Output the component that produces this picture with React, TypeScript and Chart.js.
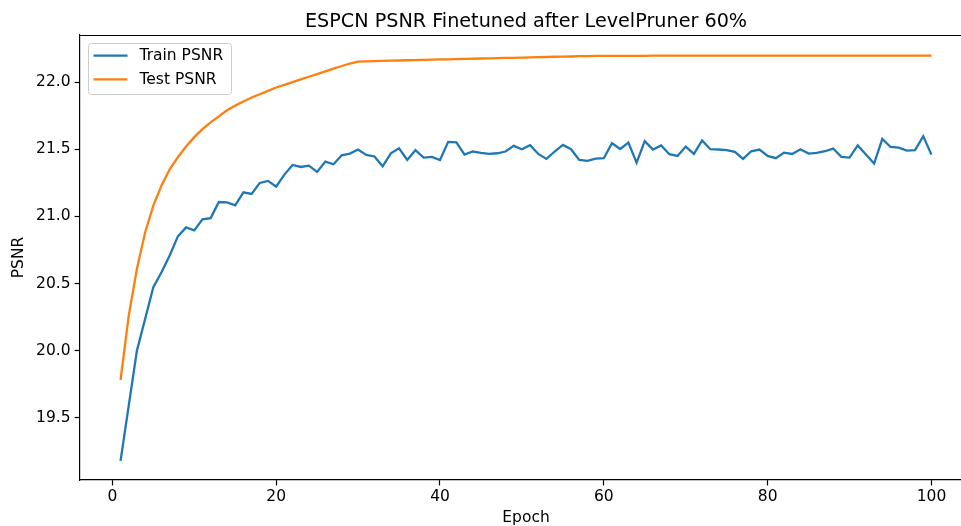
import { useEffect, useRef } from "react";
import { Chart, registerables } from "chart.js";

Chart.register(...registerables);

const chartTitle = "ESPCN PSNR Finetuned after LevelPruner 60%";
const xLabel = "Epoch";
const yLabel = "PSNR";
const seriesNames = ["Train PSNR", "Test PSNR"];
const seriesColors = ["#1f77b4", "#ff7f0e"];

const epochs = [
  1, 2, 3, 4, 5, 6, 7, 8, 9, 10, 11, 12, 13, 14, 15, 16, 17, 18, 19, 20,
  21, 22, 23, 24, 25, 26, 27, 28, 29, 30, 31, 32, 33, 34, 35, 36, 37, 38, 39, 40,
  41, 42, 43, 44, 45, 46, 47, 48, 49, 50, 51, 52, 53, 54, 55, 56, 57, 58, 59, 60,
  61, 62, 63, 64, 65, 66, 67, 68, 69, 70, 71, 72, 73, 74, 75, 76, 77, 78, 79, 80,
  81, 82, 83, 84, 85, 86, 87, 88, 89, 90, 91, 92, 93, 94, 95, 96, 97, 98, 99, 100,
];

const trainPsnr = [
  19.179, 19.59, 20.0, 20.236, 20.472, 20.584, 20.709, 20.851, 20.918, 20.896,
  20.978, 20.987, 21.107, 21.104, 21.082, 21.179, 21.167, 21.249, 21.264, 21.222,
  21.311, 21.383, 21.368, 21.378, 21.331, 21.408, 21.388, 21.455, 21.468, 21.498,
  21.458, 21.446, 21.373, 21.47, 21.507, 21.42, 21.493, 21.438, 21.443, 21.42,
  21.555, 21.552, 21.46, 21.483, 21.473, 21.465, 21.47, 21.483, 21.525, 21.5,
  21.53, 21.465, 21.428, 21.483, 21.532, 21.5, 21.42, 21.413, 21.43, 21.433,
  21.545, 21.502, 21.55, 21.4, 21.56, 21.498, 21.528, 21.463, 21.45, 21.52,
  21.465, 21.565, 21.5, 21.498, 21.494, 21.48, 21.428, 21.485, 21.498, 21.45,
  21.433, 21.475, 21.465, 21.5, 21.468, 21.473, 21.485, 21.505, 21.443, 21.438,
  21.528, 21.46, 21.393, 21.577, 21.517, 21.512, 21.49, 21.493, 21.597, 21.46,
];

const testPsnr = [
  19.781, 20.26, 20.61, 20.88, 21.08, 21.23, 21.35, 21.44, 21.52, 21.59,
  21.65, 21.7, 21.745, 21.79, 21.825, 21.855, 21.885, 21.91, 21.935, 21.96,
  21.98, 22.0, 22.02, 22.04, 22.06, 22.08, 22.1, 22.12, 22.137, 22.153,
  22.155, 22.157, 22.158, 22.16, 22.161, 22.163, 22.164, 22.166, 22.167, 22.169,
  22.17, 22.171, 22.173, 22.174, 22.176, 22.177, 22.178, 22.18, 22.181, 22.183,
  22.184, 22.186, 22.187, 22.189, 22.19, 22.191, 22.193, 22.194, 22.195, 22.196,
  22.196, 22.196, 22.196, 22.196, 22.196, 22.197, 22.197, 22.197, 22.197, 22.197,
  22.197, 22.197, 22.197, 22.197, 22.197, 22.197, 22.197, 22.197, 22.197, 22.197,
  22.198, 22.198, 22.198, 22.198, 22.198, 22.198, 22.198, 22.198, 22.198, 22.198,
  22.198, 22.198, 22.198, 22.198, 22.198, 22.198, 22.198, 22.198, 22.198, 22.198,
];

const xTicks = [0, 20, 40, 60, 80, 100];
const yTicks = [19.5, 20.0, 20.5, 21.0, 21.5, 22.0];

const FONT = "'DejaVu Sans', sans-serif";
const TICK_SIZE = 15.5;
const TITLE_SIZE = 19.2;

const framePlugin = {
  id: "mplFrame",
  afterDraw(chart: any) {
    const { ctx, chartArea } = chart;
    ctx.save();
    // top spine
    ctx.strokeStyle = "#000";
    ctx.lineWidth = 1.2;
    ctx.beginPath();
    ctx.moveTo(chartArea.left, chartArea.top + 0.5);
    ctx.lineTo(chartArea.right + 20, chartArea.top + 0.5);
    ctx.stroke();

    // title, centred over the axes
    ctx.fillStyle = "#000";
    ctx.font = `${TITLE_SIZE}px ${FONT}`;
    ctx.textAlign = "center";
    ctx.textBaseline = "alphabetic";
    ctx.fillText(chartTitle, (chartArea.left + chartArea.right) / 2, 27);

    // legend
    const bx = 88.5, by = 43.5, bw = 143, bh = 51, r = 3;
    ctx.beginPath();
    ctx.moveTo(bx + r, by);
    ctx.lineTo(bx + bw - r, by);
    ctx.quadraticCurveTo(bx + bw, by, bx + bw, by + r);
    ctx.lineTo(bx + bw, by + bh - r);
    ctx.quadraticCurveTo(bx + bw, by + bh, bx + bw - r, by + bh);
    ctx.lineTo(bx + r, by + bh);
    ctx.quadraticCurveTo(bx, by + bh, bx, by + bh - r);
    ctx.lineTo(bx, by + r);
    ctx.quadraticCurveTo(bx, by, bx + r, by);
    ctx.closePath();
    ctx.fillStyle = "rgba(255,255,255,0.8)";
    ctx.fill();
    ctx.strokeStyle = "#cccccc";
    ctx.lineWidth = 1;
    ctx.stroke();

    const rows = [55.7, 79.3];
    ctx.font = `${TICK_SIZE}px ${FONT}`;
    ctx.textBaseline = "middle";
    ctx.textAlign = "left";
    seriesNames.forEach((name, i) => {
      ctx.strokeStyle = seriesColors[i];
      ctx.lineWidth = 2.3;
      ctx.beginPath();
      ctx.moveTo(93.5, rows[i]);
      ctx.lineTo(127.5, rows[i]);
      ctx.stroke();
      ctx.fillStyle = "#000";
      ctx.fillText(name, 139.5, rows[i] + 0.5);
    });
    ctx.restore();
  },
};

export default function App() {
  const ref = useRef<HTMLCanvasElement | null>(null);

  useEffect(() => {
    const canvas = ref.current;
    if (!canvas) return;
    const chart = new Chart(canvas, {
      type: "line",
      data: {
        datasets: [
          {
            label: seriesNames[0],
            data: epochs.map((e, i) => ({ x: e, y: trainPsnr[i] })),
            borderColor: seriesColors[0],
            backgroundColor: seriesColors[0],
            borderWidth: 2.3,
            pointRadius: 0,
            tension: 0,
          },
          {
            label: seriesNames[1],
            data: epochs.map((e, i) => ({ x: e, y: testPsnr[i] })),
            borderColor: seriesColors[1],
            backgroundColor: seriesColors[1],
            borderWidth: 2.3,
            pointRadius: 0,
            tension: 0,
          },
        ],
      },
      options: {
        animation: false,
        responsive: false,
        devicePixelRatio: 1,
        layout: { padding: { top: 35, left: 0, right: 0, bottom: 0 } },
        plugins: {
          legend: { display: false },
          tooltip: { enabled: false },
          title: { display: false },
        },
        scales: {
          x: {
            type: "linear",
            min: -3.95,
            max: 104.95,
            afterBuildTicks(scale: any) {
              scale.ticks = xTicks.map((v) => ({ value: v }));
            },
            afterFit(scale: any) {
              scale.height = 46;
              scale.paddingLeft = 0;
              scale.paddingRight = 0;
            },
            ticks: {
              color: "#000",
              font: { family: FONT, size: TICK_SIZE },
              padding: 2,
              maxRotation: 0,
              autoSkip: false,
              callback: (v: any) => String(v),
            },
            grid: {
              drawOnChartArea: false,
              drawTicks: true,
              tickLength: 5.4,
              tickColor: "#000",
              tickWidth: 1.2,
            },
            border: { display: true, color: "#000", width: 1.2 },
            title: {
              display: true,
              text: xLabel,
              color: "#000",
              font: { family: FONT, size: TICK_SIZE },
              padding: { top: 0, bottom: -1 },
            },
          },
          y: {
            type: "linear",
            min: 19.036,
            max: 22.351,
            afterBuildTicks(scale: any) {
              scale.ticks = yTicks.map((v) => ({ value: v }));
            },
            afterFit(scale: any) {
              scale.width = 80;
              scale.paddingTop = 0;
              scale.paddingBottom = 0;
            },
            ticks: {
              color: "#000",
              font: { family: FONT, size: TICK_SIZE },
              padding: 4,
              autoSkip: false,
              callback: (v: any) => Number(v).toFixed(1),
            },
            grid: {
              drawOnChartArea: false,
              drawTicks: true,
              tickLength: 5.4,
              tickColor: "#000",
              tickWidth: 1.2,
            },
            border: { display: true, color: "#000", width: 1.2 },
            title: {
              display: true,
              text: yLabel,
              color: "#000",
              font: { family: FONT, size: TICK_SIZE },
              padding: { top: 10, bottom: 0 },
            },
          },
        },
      },
      plugins: [framePlugin],
    } as any);
    return () => chart.destroy();
  }, []);

  return (
    <div
      style={{
        position: "fixed",
        left: 0,
        top: 0,
        width: 961,
        height: 526,
        overflow: "hidden",
        background: "#fff",
      }}
    >
      <canvas ref={ref} width={972} height={526} style={{ width: 972, height: 526, display: "block" }} />
    </div>
  );
}
